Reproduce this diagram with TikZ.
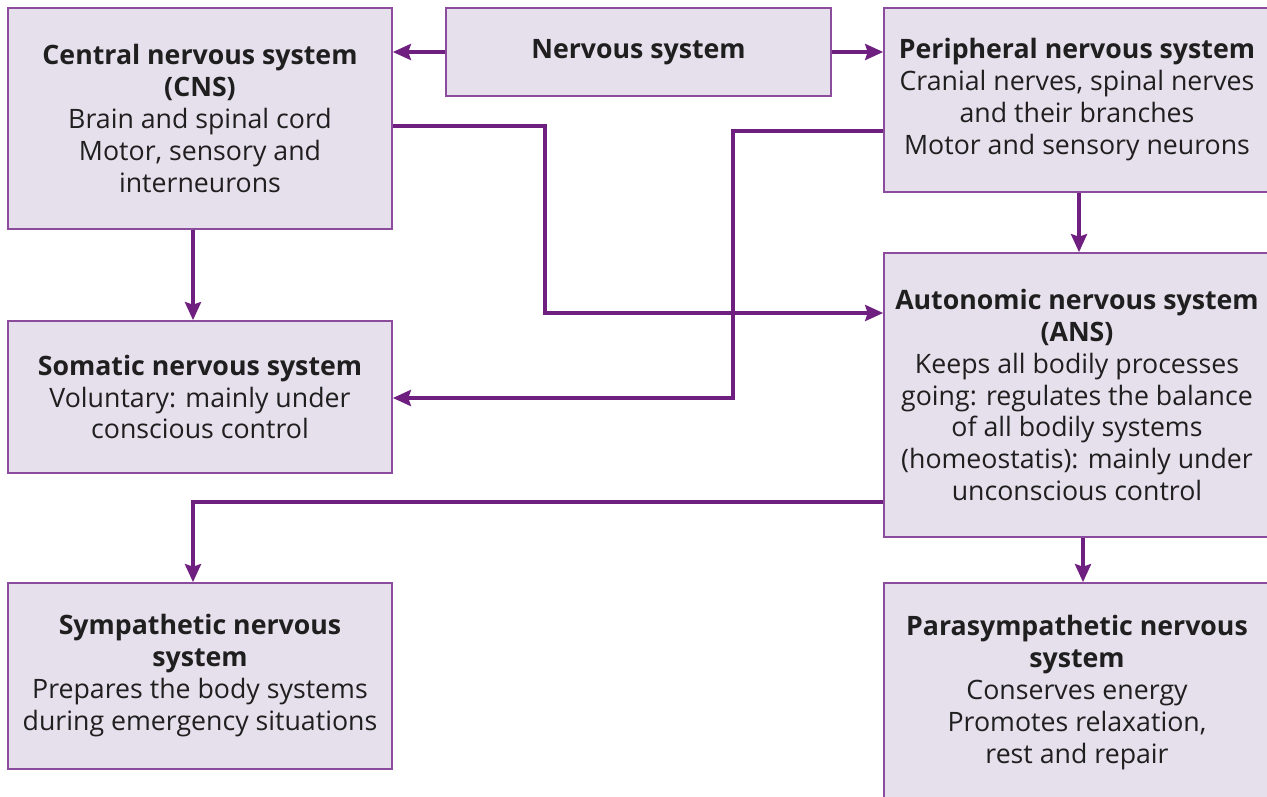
\documentclass[tikz,border=0pt]{standalone}
\usepackage{fontspec}
\setmainfont{Open Sans}
\usepackage{tikz}
\usetikzlibrary{arrows.meta,positioning}
\usepackage{xcolor}
\definecolor{lavender}{HTML}{E6DFEC}
\definecolor{boxedge}{HTML}{8C4C9E}
\definecolor{plum}{HTML}{6E1F80}

\begin{document}
\begin{tikzpicture}[x=0.02cm,y=-0.02cm,>={Stealth[length=3.6mm,width=3.2mm,inset=0.5mm]}]
        \tikzstyle{block}=[draw=boxedge, fill=lavender, line width=1pt, align=center, inner sep=0pt,
            font=\fontsize{15.2}{18.2}\selectfont\color{black!88}]
        \tikzstyle{link}=[->, plum, line width=2pt]
        \useasboundingbox (0,0) rectangle (1267,797);

        % Left column
        \node (cns)[block, minimum width=7.68cm, minimum height=4.42cm] at (200,118.5)
            {\textbf{Central nervous system}\\ \textbf{(CNS)}\\ Brain and spinal cord\\ Motor, sensory and\\ interneurons};
        \node (sns)[block, minimum width=7.68cm, minimum height=3.04cm] at (200,397)
            {\textbf{Somatic nervous system}\\ Voluntary: mainly under\\ conscious control};
        \node (sym)[block, minimum width=7.68cm, minimum height=3.72cm] at (200,676)
            {\textbf{Sympathetic nervous}\\ \textbf{system}\\ Prepares the body systems\\ during emergency situations};

        % Top middle
        \node (ns)[block, minimum width=7.7cm, minimum height=1.76cm] at (638.5,52)
            {\textbf{Nervous system}};

        % Right column
        \node (pns)[block, minimum width=7.72cm, minimum height=3.68cm] at (1077,100)
            {\textbf{Peripheral nervous system}\\ Cranial nerves, spinal nerves\\ and their branches\\ Motor and sensory neurons};
        \node (ans)[block, minimum width=7.72cm, minimum height=5.68cm] at (1077,395)
            {\textbf{Autonomic nervous system}\\ \textbf{(ANS)}\\ Keeps all bodily processes\\ going: regulates the balance\\ of all bodily systems\\ (homeostatis): mainly under\\ unconscious control};
        \node (para)[block, minimum width=7.72cm, minimum height=4.4cm] at (1077,693)
            {\textbf{Parasympathetic nervous}\\ \textbf{system}\\ Conserves energy\\ Promotes relaxation,\\ rest and repair};

        % Arrows from the nervous system
        \draw[link] (ns.west |- 0,52) -- (cns.east |- 0,52);
        \draw[link] (ns.east |- 0,52) -- (pns.west |- 0,52);

        % Straight drops
        \draw[link] (cns.south -| 193,0) -- (sns.north -| 193,0);
        \draw[link] (pns.south -| 1079,0) -- (ans.north -| 1079,0);
        \draw[link] (ans.south -| 1083,0) -- (para.north -| 1083,0);

        % Crossing links
        \draw[link] (cns.east |- 0,126) -| (545,313) -- (ans.west |- 0,313);
        \draw[link] (pns.west |- 0,131) -| (733,398) -- (sns.east |- 0,398);
        \draw[link] (ans.west |- 0,502) -| (sym.north -| 193,0);
    \end{tikzpicture}
\end{document}
